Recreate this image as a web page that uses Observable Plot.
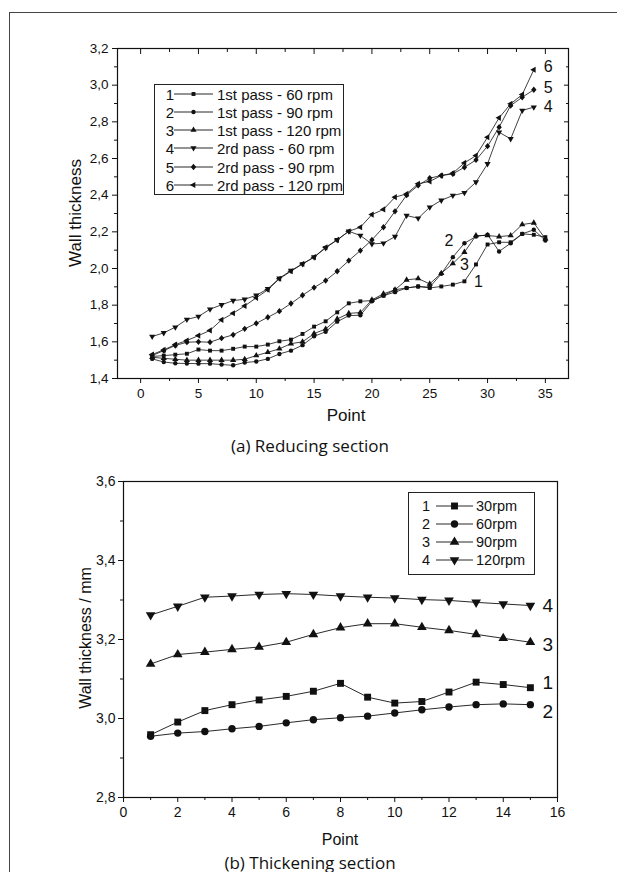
<!DOCTYPE html>
<html><head><meta charset="utf-8">
<script src="https://cdn.jsdelivr.net/npm/d3@7"></script>
<script src="https://cdn.jsdelivr.net/npm/@observablehq/plot@0.6"></script>
<style>
body{margin:0;background:#fff;overflow:hidden;}
#page{position:relative;width:617px;height:872px;overflow:hidden;background:#fff;font-family:"Liberation Sans",Arial,sans-serif;color:#111;}
#frame{position:absolute;left:9px;top:12px;width:640px;height:900px;border-left:1.5px solid #444;border-top:1.5px solid #444;}
.chart{position:absolute;left:0;}
.lbl{position:absolute;white-space:nowrap;line-height:1;}
.legend{position:absolute;border:1px solid #222;background:#fff;}
</style>
</head><body>
<div id="page"><div id="frame"></div></div>
<script>
// ---------- DATA: (a) Reducing section ----------
const pointsA = [1,2,3,4,5,6,7,8,9,10,11,12,13,14,15,16,17,18,19,20,21,22,23,24,25,26,27,28,29,30,31,32,33,34,35];
const pass1_60  = [1.520,1.525,1.530,1.535,1.558,1.552,1.552,1.562,1.574,1.574,1.585,1.603,1.612,1.643,1.683,1.712,1.761,1.810,1.821,1.825,1.852,1.884,1.894,1.902,1.894,1.902,1.912,1.930,2.022,2.131,2.143,2.143,2.189,2.184,2.171];
const pass1_90  = [1.507,1.490,1.483,1.482,1.481,1.481,1.476,1.472,1.487,1.493,1.507,1.534,1.552,1.582,1.630,1.655,1.710,1.743,1.745,1.821,1.852,1.871,1.894,1.902,1.898,1.971,2.062,2.138,2.174,2.185,2.093,2.138,2.189,2.211,2.153];
const pass1_120 = [1.516,1.510,1.505,1.500,1.500,1.500,1.500,1.500,1.505,1.525,1.543,1.562,1.590,1.600,1.645,1.670,1.725,1.755,1.760,1.829,1.862,1.884,1.938,1.945,1.916,1.974,2.027,2.089,2.180,2.180,2.174,2.180,2.240,2.249,2.162];
const pass2_60  = [1.629,1.649,1.680,1.722,1.738,1.778,1.802,1.825,1.832,1.854,1.889,1.947,1.989,2.025,2.062,2.112,2.156,2.203,2.180,2.134,2.138,2.174,2.289,2.274,2.334,2.372,2.398,2.413,2.471,2.571,2.743,2.707,2.862,2.880];
const pass2_90  = [1.525,1.552,1.580,1.598,1.600,1.598,1.620,1.638,1.671,1.701,1.734,1.767,1.809,1.854,1.896,1.934,1.985,2.043,2.098,2.156,2.225,2.312,2.400,2.453,2.493,2.507,2.516,2.552,2.592,2.667,2.771,2.889,2.934,2.975];
const pass2_120 = [1.531,1.556,1.585,1.607,1.634,1.662,1.720,1.756,1.796,1.840,1.884,1.944,1.985,2.025,2.062,2.116,2.156,2.203,2.225,2.294,2.322,2.389,2.407,2.462,2.475,2.507,2.520,2.576,2.616,2.716,2.822,2.898,2.949,3.084];
const legendA = ["1st pass - 60 rpm","1st pass - 90 rpm","1st pass - 120 rpm","2rd pass - 60 rpm","2rd pass - 90 rpm","2rd pass - 120 rpm"];
const xTicksA = [0,5,10,15,20,25,30,35];
const xMinorA = [2.5,7.5,12.5,17.5,22.5,27.5,32.5];
const yTicksA = [1.4,1.6,1.8,2.0,2.2,2.4,2.6,2.8,3.0,3.2];
const yMinorA = [1.5,1.7,1.9,2.1,2.3,2.5,2.7,2.9,3.1];

// ---------- DATA: (b) Thickening section ----------
const pointsB = [1,2,3,4,5,6,7,8,9,10,11,12,13,14,15];
const rpm30  = [2.959,2.991,3.020,3.035,3.047,3.056,3.069,3.089,3.054,3.039,3.043,3.067,3.092,3.086,3.078];
const rpm60  = [2.955,2.963,2.967,2.974,2.980,2.989,2.997,3.002,3.006,3.014,3.022,3.029,3.035,3.037,3.035];
const rpm90  = [3.138,3.162,3.168,3.175,3.181,3.193,3.213,3.230,3.240,3.240,3.231,3.223,3.213,3.203,3.193];
const rpm120 = [3.262,3.284,3.307,3.310,3.314,3.316,3.314,3.310,3.307,3.305,3.301,3.299,3.294,3.290,3.286];
const legendB = ["30rpm","60rpm","90rpm","120rpm"];
const xTicksB = [0,2,4,6,8,10,12,14,16];
const xMinorB = [1,3,5,7,9,11,13,15];
const yTicksB = [2.8,3.0,3.2,3.4,3.6];
const yMinorB = [2.9,3.1,3.3,3.5];

// ---------- symbols ----------
const s3 = Math.sqrt(3);
const triUp = d3.symbolTriangle;
const triDown = {draw(c, size){const y=-Math.sqrt(size/(s3*3)); c.moveTo(0,-2*y); c.lineTo(-s3*y,y); c.lineTo(s3*y,y); c.closePath();}};
const triLeft = {draw(c, size){const y=-Math.sqrt(size/(s3*3)); c.moveTo(2*y,0); c.lineTo(-y,-s3*y); c.lineTo(-y,s3*y); c.closePath();}};
const diamond = {draw(c, size){const r=Math.sqrt(size/2)*1.05; c.moveTo(0,-r); c.lineTo(r*0.85,0); c.lineTo(0,r); c.lineTo(-r*0.85,0); c.closePath();}};

const FONT = '"Liberation Sans", Arimo, Arial, Roboto, sans-serif';
const CAPFONT = '"Open Sans", "Noto Sans", sans-serif';
const fmt = d => d.toFixed(1).replace(".", ",");
const rows = (xs, ys) => ys.map((v,i) => ({x: xs[i], y: v}));
const INK = "#111";
const page = document.getElementById("page");

function addLabel(text, cx, cy, size, family, rot){
  const d = document.createElement("div");
  d.className = "lbl";
  d.textContent = text;
  d.style.left = cx + "px"; d.style.top = cy + "px";
  d.style.fontSize = size + "px";
  d.style.fontFamily = family;
  d.style.transform = "translate(-50%,-50%)" + (rot ? " rotate(-90deg)" : "");
  page.appendChild(d);
}

function addLegend(box, entries, rowH, firstY, numX, lineX0, lineX1, textX, fontSize){
  const L = document.createElement("div");
  L.className = "legend";
  L.style.left = box[0] + "px"; L.style.top = box[1] + "px";
  L.style.width = box[2] + "px"; L.style.height = box[3] + "px";
  page.appendChild(L);
  entries.forEach((e, i) => {
    const cy = firstY + i*rowH;
    const n = document.createElement("div");
    n.className = "lbl"; n.textContent = String(i+1);
    n.style.fontSize = fontSize + "px"; n.style.fontFamily = FONT;
    n.style.left = numX + "px"; n.style.top = cy + "px"; n.style.transform = "translate(-50%,-50%)";
    page.appendChild(n);
    const t = document.createElement("div");
    t.className = "lbl"; t.textContent = e.label;
    t.style.fontSize = fontSize + "px"; t.style.fontFamily = FONT;
    t.style.left = textX + "px"; t.style.top = cy + "px"; t.style.transform = "translate(0,-50%)";
    page.appendChild(t);
    const svg = d3.select(page).append("svg")
      .style("position","absolute").style("left", lineX0 + "px").style("top", (cy-6) + "px")
      .attr("width", lineX1 - lineX0).attr("height", 12);
    svg.append("line").attr("x1",0).attr("x2",lineX1-lineX0).attr("y1",6).attr("y2",6).attr("stroke",INK).attr("stroke-width",0.9);
    svg.append("path").attr("transform",`translate(${(lineX1-lineX0)/2},6)`)
      .attr("d", d3.symbol().type(e.symbol).size(Math.PI*e.r*e.r)()).attr("fill",INK);
  });
}

// one text mark per annotation so each can carry its own offset
const annot = (list, opts) => list.map(l => Plot.text([l], {x:"x", y:"y", text:"t", dx: l.dx, dy: l.dy, fill: INK, ...opts}));

// ---------- chart (a) ----------
const seriesA = [
  {label: legendA[0], data: rows(pointsA, pass1_60),  symbol: d3.symbolSquare, r: 2.2},
  {label: legendA[1], data: rows(pointsA, pass1_90),  symbol: d3.symbolCircle, r: 2.2},
  {label: legendA[2], data: rows(pointsA, pass1_120), symbol: triUp, r: 2.3},
  {label: legendA[3], data: rows(pointsA, pass2_60),  symbol: triDown, r: 2.3},
  {label: legendA[4], data: rows(pointsA, pass2_90),  symbol: diamond, r: 2.4},
  {label: legendA[5], data: rows(pointsA, pass2_120), symbol: triLeft, r: 2.3}
];
const marksA = [];
seriesA.forEach(s => {
  marksA.push(Plot.line(s.data, {x:"x", y:"y", stroke: INK, strokeWidth: 0.8}));
  marksA.push(Plot.dot(s.data, {x:"x", y:"y", symbol: s.symbol, r: s.r, fill: INK, stroke: "none"}));
});
const lastOf = s => s.data[s.data.length-1];
const endA = [
  {...lastOf(seriesA[5]), t:"6", dx: 10, dy: -3},
  {...lastOf(seriesA[4]), t:"5", dx: 10, dy: -2},
  {...lastOf(seriesA[3]), t:"4", dx: 10, dy: 0}
];
const midA = [
  {...seriesA[1].data[26], t:"2", dx:-4, dy:-16},
  {...seriesA[2].data[27], t:"3", dx:0, dy:13},
  {...seriesA[0].data[27], t:"1", dx:14, dy:1}
];
const plotA = Plot.plot({
  width: 617, height: 430,
  marginTop: 48, marginBottom: 52, marginLeft: 117, marginRight: 49,
  x: {domain: [-2, 37]},
  y: {domain: [1.4, 3.2]},
  style: {fontFamily: FONT, fontSize: "13.5px", color: INK, background: "transparent"},
  marks: [
    Plot.frame({stroke: INK, strokeWidth: 1.2}),
    Plot.axisY({ticks: yTicksA, tickSize: 5, tickPadding: 4, tickFormat: fmt, label: null}),
    Plot.axisY({ticks: yMinorA, tickSize: 3, tickFormat: () => "", label: null}),
    Plot.axisY({anchor: "right", ticks: yTicksA, tickSize: -5, tickFormat: () => "", label: null}),
    Plot.axisY({anchor: "right", ticks: yMinorA, tickSize: -3, tickFormat: () => "", label: null}),
    Plot.axisX({ticks: xTicksA, tickSize: 5, tickPadding: 5, tickFormat: d => String(d), label: null}),
    Plot.axisX({ticks: xMinorA, tickSize: 3, tickFormat: () => "", label: null}),
    Plot.axisX({anchor: "top", ticks: xTicksA, tickSize: -5, tickFormat: () => "", label: null}),
    Plot.axisX({anchor: "top", ticks: xMinorA, tickSize: -3, tickFormat: () => "", label: null}),
    ...marksA,
    ...annot(endA, {textAnchor: "start", fontSize: 16}),
    ...annot(midA, {fontSize: 16})
  ]
});
plotA.classList.add("chart"); plotA.style.top = "0px";
page.appendChild(plotA);

// ---------- chart (b) ----------
const seriesB = [
  {label: legendB[0], data: rows(pointsB, rpm30),  symbol: d3.symbolSquare, r: 3.9},
  {label: legendB[1], data: rows(pointsB, rpm60),  symbol: d3.symbolCircle, r: 3.7},
  {label: legendB[2], data: rows(pointsB, rpm90),  symbol: triUp, r: 3.6},
  {label: legendB[3], data: rows(pointsB, rpm120), symbol: triDown, r: 3.6}
];
const marksB = [];
seriesB.forEach(s => {
  marksB.push(Plot.line(s.data, {x:"x", y:"y", stroke: INK, strokeWidth: 0.9}));
  marksB.push(Plot.dot(s.data, {x:"x", y:"y", symbol: s.symbol, r: s.r, fill: INK, stroke: "none"}));
});
const endB = [
  {...lastOf(seriesB[3]), t:"4", dx: 12, dy: 0},
  {...lastOf(seriesB[2]), t:"3", dx: 12, dy: 3},
  {...lastOf(seriesB[0]), t:"1", dx: 12, dy: -5},
  {...lastOf(seriesB[1]), t:"2", dx: 12, dy: 7}
];
const plotB = Plot.plot({
  width: 617, height: 400,
  marginTop: 41, marginBottom: 43, marginLeft: 123, marginRight: 60,
  x: {domain: [0, 16]},
  y: {domain: [2.8, 3.6]},
  style: {fontFamily: FONT, fontSize: "14px", color: INK, background: "transparent"},
  marks: [
    Plot.frame({stroke: INK, strokeWidth: 1.2}),
    Plot.axisY({ticks: yTicksB, tickSize: 5, tickPadding: 3, tickFormat: fmt, label: null}),
    Plot.axisY({ticks: yMinorB, tickSize: 3, tickFormat: () => "", label: null}),
    Plot.axisX({ticks: xTicksB, tickSize: 5, tickPadding: 5, tickFormat: d => String(d), label: null}),
    Plot.axisX({ticks: xMinorB, tickSize: 3, tickFormat: () => "", label: null}),
    ...marksB,
    ...annot(endB, {textAnchor: "start", fontSize: 19})
  ]
});
plotB.classList.add("chart"); plotB.style.top = "440px";
page.appendChild(plotB);

// ---------- titles / labels ----------
addLabel("Wall thickness", 75, 213, 17, FONT, true);
addLabel("Point", 346, 415, 17, FONT, false);
addLabel("(a) Reducing section", 310, 445, 17, CAPFONT, false);
addLabel("Wall thickness / mm", 86, 638, 16, FONT, true);
addLabel("Point", 340, 840, 16, FONT, false);
addLabel("(b) Thickening section", 310, 862, 17, CAPFONT, false);

// ---------- legends ----------
addLegend([154, 84, 188, 109], seriesA, 18.3, 93.5, 170, 174, 213, 217, 15);
addLegend([408, 492, 125, 81], seriesB, 18.3, 505.5, 426, 436, 473, 476, 14.5);
</script>
</body></html>
